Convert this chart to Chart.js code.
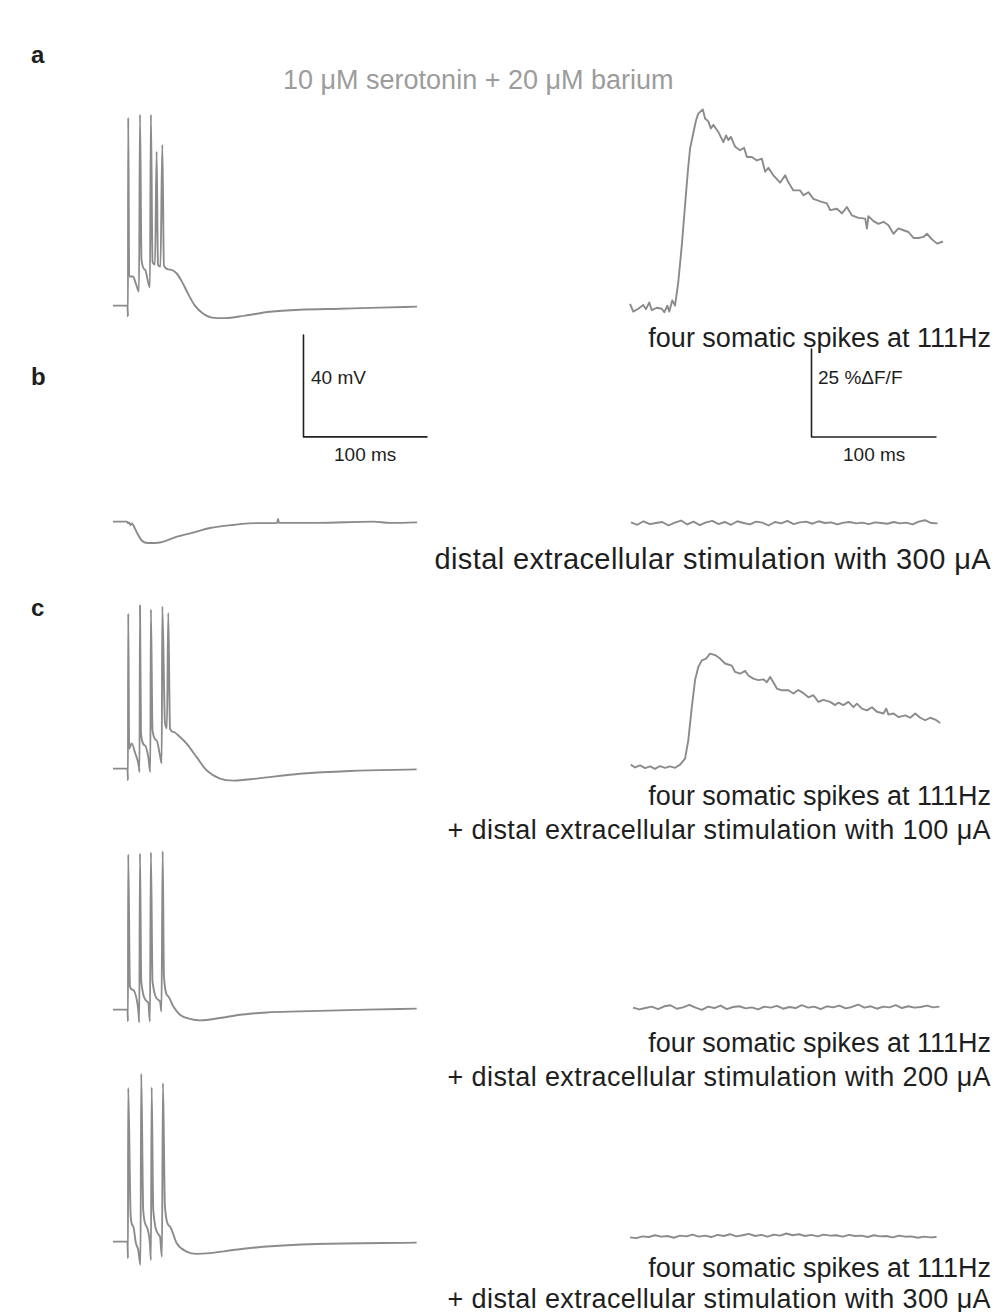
<!DOCTYPE html>
<html>
<head>
<meta charset="utf-8">
<script src="https://cdn.jsdelivr.net/npm/chart.js@4.4.1/dist/chart.umd.min.js"></script>
<style>
  html, body { margin: 0; padding: 0; background: #fff; }
  #page { position: relative; width: 1008px; height: 1312px; overflow: hidden; font-family: 'Liberation Sans', Arial, sans-serif; }
  #page canvas { position: absolute; }
  .txt { position: absolute; white-space: nowrap; color: #1e1e1e; line-height: 1; }
  .panel { font-weight: bold; font-size: 24px; }
  .lbl { font-size: 27px; right: 17px; text-align: right; }
  .lbl.wide { letter-spacing: 0.4px; }
  .lbl.big { font-size: 29px; letter-spacing: 0.4px; }
  .bar { font-size: 19px; }
  .title { font-size: 27px; color: #9c9c9c; }
</style>
</head>
<body>
<div id="page">
  <div class="txt panel" style="left:31px;top:43px">a</div>
  <div class="txt panel" style="left:31px;top:365px">b</div>
  <div class="txt panel" style="left:31px;top:596px">c</div>
  <div class="txt title" style="left:283px;top:67px">10 μM serotonin + 20 μM barium</div>

  <div class="txt bar" style="left:311px;top:368px">40 mV</div>
  <div class="txt bar" style="left:334px;top:445px">100 ms</div>
  <div class="txt bar" style="left:818px;top:368px">25 %ΔF/F</div>
  <div class="txt bar" style="left:843px;top:445px">100 ms</div>

  <div class="txt lbl" style="top:325px">four somatic spikes at 111Hz</div>
  <div class="txt lbl big" style="top:545px">distal extracellular stimulation with 300 μA</div>
  <div class="txt lbl" style="top:783px">four somatic spikes at 111Hz</div>
  <div class="txt lbl wide" style="top:817px">+ distal extracellular stimulation with 100 μA</div>
  <div class="txt lbl" style="top:1030px">four somatic spikes at 111Hz</div>
  <div class="txt lbl wide" style="top:1064px">+ distal extracellular stimulation with 200 μA</div>
  <div class="txt lbl" style="top:1255px">four somatic spikes at 111Hz</div>
  <div class="txt lbl wide" style="top:1286px">+ distal extracellular stimulation with 300 μA</div>
</div>
<script>
// somatic membrane potential: time (ms) / voltage (mV)
const A_VM_T = [0, 11.7, 12.1, 12.3, 13.1, 16.1, 18.5, 21.0, 21.8, 23.0, 25.8, 29.8, 30.6, 31.9, 33.9, 35.2, 36.3, 38.3, 39.8, 41.1, 46.0, 51.6, 55.6, 60.5, 66.1, 72.6, 79.8, 90.3, 106.5, 126.6, 150.8, 183.1, 215.3, 245.2];
const A_VM_MV = [-65, -65, -69.3, 8.7, -53.6, -53.6, -56.4, -59.5, 9.9, -47.0, -50.9, -57.9, 9.9, -47.7, -48.9, -4.6, -48.9, -49.7, -1.9, -49.3, -50.9, -52.5, -55.6, -60.3, -65.0, -68.1, -69.7, -69.9, -68.9, -67.4, -66.6, -66.2, -65.8, -65.4];

const B_VM_T = [0, 11.3, 12.1, 13.0, 14.1, 15.3, 16.9, 19.4, 23.4, 28.2, 37.9, 51.6, 64.5, 78.2, 96.8, 116.1, 132.3, 133.1, 133.9, 164.5, 209.7, 223.4, 245.2];
const B_VM_MV = [-65, -65, -65.6, -65.3, -66.3, -65.7, -66.9, -69.4, -72.5, -73.4, -73.2, -70.9, -69.3, -67.5, -66.3, -65.6, -65.6, -63.9, -65.5, -65.5, -65.0, -65.5, -65.3];

const C1_VM_T = [0, 11.7, 12.1, 12.3, 13.1, 15.1, 17.7, 21.0, 21.4, 21.8, 22.6, 25.8, 28.5, 30.1, 30.6, 31.9, 35.2, 37.9, 39.3, 39.8, 41.9, 43.5, 44.6, 46.0, 48.6, 54.0, 59.4, 67.5, 75.6, 86.3, 97.0, 115.9, 150.8, 191.1, 244.9];
const C1_VM_MV = [-65, -65, -69.6, -4.2, -57.2, -55.1, -58.6, -64.4, -66.3, -1.0, -51.3, -55.9, -60.5, -66.3, -2.6, -50.0, -53.9, -59.8, -62.9, -1.4, -46.7, -49.2, -4.0, -49.3, -50.6, -52.6, -55.2, -60.5, -65.7, -68.9, -69.7, -68.9, -67.0, -65.9, -65.3];

const C2_VM_T = [0, 11.7, 12.1, 12.3, 13.7, 15.9, 20.4, 21.2, 21.8, 22.8, 28.5, 29.8, 30.6, 31.9, 37.9, 39.1, 40.1, 41.1, 44.6, 48.6, 54.0, 62.1, 70.2, 86.3, 102.4, 124.0, 150.8, 204.6, 244.9];
const C2_VM_MV = [-65, -65, -69.6, -4.2, -55.9, -57.2, -65.0, -70.0, -3.8, -53.9, -62.3, -69.7, -3.3, -53.9, -61.7, -65.7, -2.9, -51.9, -59.8, -63.7, -67.0, -68.6, -69.2, -68.3, -67.0, -66.1, -65.7, -65.0, -64.6];

const C3_VM_T = [0, 11.7, 12.1, 12.3, 14.3, 16.4, 18.5, 20.4, 22.2, 22.8, 24.4, 27.2, 29.8, 30.6, 31.2, 32.5, 37.9, 39.5, 40.3, 41.9, 46.0, 51.4, 59.4, 67.5, 78.2, 97.0, 121.2, 164.3, 244.9];
const C3_VM_MV = [-65, -65, -71.5, -4.8, -55.2, -59.1, -65.6, -68.3, -74.1, 0.8, -52.6, -59.1, -65.6, -72.2, -4.5, -52.6, -63.0, -70.9, -2.9, -51.3, -59.1, -65.6, -68.9, -69.8, -69.5, -68.3, -67.0, -65.9, -65.4];

// dendritic calcium signal: time (ms) / %ΔF/F
const A_DF_T = [0, 2.6, 6.6, 10.6, 12.8, 15.4, 17.4, 21.4, 25.4, 27.4, 29.8, 31.4, 33.8, 36.0, 38.6, 41.4, 44.0, 46.2, 48.0, 50.2, 52.8, 54.6, 58.2, 60.0, 62.6, 64.6, 66.6, 70.6, 74.6, 76.8, 78.6, 80.6, 84.0, 88.0, 91.2, 93.4, 97.4, 101.4, 105.4, 108.0, 110.6, 114.6, 120.0, 124.0, 126.6, 130.6, 136.0, 138.6, 142.6, 146.6, 152.0, 157.4, 160.0, 165.4, 169.4, 173.4, 177.4, 182.6, 188.0, 189.4, 190.6, 194.6, 198.6, 202.6, 206.6, 210.6, 214.6, 218.6, 222.6, 226.6, 230.6, 234.6, 237.4, 241.4, 245.4, 250.2];
const A_DF_PCT = [1.0, -1.2, -0.4, 0.7, -0.5, 1.4, -0.8, -0.1, -0.4, -1.4, 0.5, -1.2, 2.0, 0.5, 7.2, 17.6, 29.0, 38.5, 45.1, 48.8, 53.1, 55.0, 56.2, 53.6, 52.8, 50.8, 51.8, 49.8, 46.9, 48.8, 47.5, 48.4, 45.6, 44.6, 45.3, 42.7, 42.7, 41.7, 42.2, 38.5, 39.6, 37.5, 35.4, 37.5, 35.5, 33.2, 33.2, 31.8, 32.7, 30.8, 30.1, 29.5, 27.6, 28.0, 26.7, 28.5, 26.1, 25.4, 25.2, 22.4, 25.9, 24.5, 23.7, 24.3, 23.3, 20.9, 22.4, 21.9, 21.4, 19.7, 19.7, 20.0, 20.9, 19.3, 18.1, 18.7];

const C1_DF_T = [0.6, 4, 8, 12, 16, 20, 24, 28, 32, 36, 40, 44, 46.6, 49.4, 52, 54.6, 57.4, 60.8, 64, 68, 72, 76, 81.4, 84, 88, 92, 94.6, 98.6, 102.6, 106.6, 109.4, 112, 114.6, 117.4, 121.4, 126.6, 130.6, 134.6, 138.6, 142.6, 146.6, 150.6, 154.6, 160, 164, 166.6, 170.6, 174.6, 178.6, 181.4, 185.4, 189.4, 193.4, 197.4, 202.6, 204.8, 206.6, 210.6, 214.6, 220, 224, 228, 232, 236, 240, 244, 248];
const C1_DF_PCT = [0.5, -0.3, 0.3, -0.5, 0, -0.7, 0.1, -0.4, 0, -0.4, 0.5, 2.2, 7.4, 16.8, 24.5, 28.2, 30.1, 30.6, 32.0, 31.6, 30.6, 29.2, 28.6, 26.8, 26.3, 27.1, 25.8, 24.9, 24.5, 24.7, 23.9, 25.4, 23.9, 22.1, 21.6, 21.6, 20.7, 21.7, 20.8, 19.6, 20.2, 18.3, 18.9, 18.3, 17.4, 18.1, 17.4, 18.3, 16.8, 17.8, 16.4, 15.9, 16.8, 15.5, 15.0, 16.4, 14.7, 15.0, 14.0, 14.5, 13.8, 15.0, 13.8, 13.1, 13.8, 13.3, 12.3];

// traces with no calcium response (b, c2, c3)
const FLAT_DF_T = [0, 5, 10, 15, 20, 25, 30, 35, 40, 45, 50, 55, 60, 65, 70, 75, 80, 85, 90, 95, 100, 105, 110, 115, 120, 125, 130, 135, 140, 145, 150, 155, 160, 165, 170, 175, 180, 185, 190, 195, 200, 205, 210, 215, 220, 225, 230, 235, 240, 245];
const B_DF_PCT = [0.3, -0.4, 0.6, -0.2, 0.1, 0.4, -0.6, 0.2, 0.8, -0.3, 0.5, -0.5, 0.3, 0.7, -0.2, 0.4, -0.4, 0.6, 0.1, -0.3, 0.5, 0.2, -0.6, 0.4, 0.0, 0.7, -0.2, 0.3, 0.5, -0.1, 0.6, 0.1, 0.3, -0.3, 0.2, 0.4, 0.0, 0.2, -0.2, 0.3, 0.1, -0.1, 0.4, 0.0, 0.2, -0.3, 0.5, 0.9, 0.1, 0.0];
const C2_DF_PCT = [0.2, -0.3, 0.1, 0.5, -0.2, 0.6, 0.9, -0.1, 0.3, 1.0, 0.2, -0.4, 0.5, 0.1, 0.8, -0.2, 0.4, 0.6, 0.0, 0.3, -0.3, 0.5, 0.2, 0.7, -0.1, 0.4, 0.1, 0.9, 0.2, 0.5, -0.2, 0.6, 0.3, 0.8, 0.0, 0.4, 1.1, 0.2, 0.6, -0.1, 0.5, 0.3, 0.9, 0.1, 0.6, 0.2, 0.4, 0.8, 0.3, 0.5];
const C3_DF_PCT = [0.0, -0.2, 0.3, 0.1, 0.6, 0.2, 0.4, -0.1, 0.5, 0.3, 0.8, 0.2, 0.5, 0.1, 0.7, 0.4, 0.9, 0.3, 0.6, 1.0, 0.4, 0.7, 0.2, 0.8, 0.5, 1.1, 0.6, 0.9, 0.4, 0.7, 0.3, 0.8, 0.5, 0.6, 0.2, 0.7, 0.4, 0.5, 0.1, 0.6, 0.3, 0.4, 0.0, 0.5, 0.2, 0.3, -0.1, 0.2, 0.0, 0.1];

// scale bars
const VM_BAR_T = [0, 0, 100];
const VM_BAR_MV = [40, 0, 0];
const DF_BAR_T = [0, 0, 100];
const DF_BAR_PCT = [25, 0, 0];

// page layout (px per unit, anchors)
const VM_PX_MS = 1.24, VM_PX_MV = 2.55;
const DF_PX_MS = 1.25, DF_PX_PCT = 3.52;
const TRACE_GREY = '#8b8b8b';

const page = document.getElementById('page');

function plot(xs, ys, f) {
    const c = document.createElement('canvas');
    const w = Math.round((f.xMax - f.xMin) * f.pxX);
    const h = Math.round((f.yMax - f.yMin) * f.pxY);
    c.width = w; c.height = h;
    c.style.left = (f.left + f.xMin * f.pxX) + 'px';
    c.style.top = (f.baseY - (f.yMax - f.base) * f.pxY) + 'px';
    c.style.width = w + 'px'; c.style.height = h + 'px';
    page.appendChild(c);
    new Chart(c.getContext('2d'), {
        type: 'line',
        data: {
            datasets: [{
                data: xs.map((x, i) => ({ x: x, y: ys[i] })),
                borderColor: f.color || TRACE_GREY,
                borderWidth: f.lw || 1.9,
                pointRadius: 0,
                tension: 0,
                cubicInterpolationMode: f.smooth ? 'monotone' : 'default',
                borderJoinStyle: 'round',
                fill: false
            }]
        },
        options: {
            responsive: false,
            animation: false,
            events: [],
            layout: { padding: 0 },
            plugins: { legend: { display: false }, tooltip: { enabled: false } },
            scales: {
                x: { type: 'linear', display: false, min: f.xMin, max: f.xMax },
                y: { type: 'linear', display: false, min: f.yMin, max: f.yMax }
            }
        }
    });
}

function vm(xs, ys, baseY) {
    plot(xs, ys, { left: 113, baseY: baseY, base: -65, pxX: VM_PX_MS, pxY: VM_PX_MV,
        xMin: -4, xMax: 250, yMin: -82, yMax: 16, smooth: true });
}
function df(xs, ys, left, baseY) {
    plot(xs, ys, { left: left, baseY: baseY, base: 0, pxX: DF_PX_MS, pxY: DF_PX_PCT,
        xMin: -4, xMax: 255, yMin: -5, yMax: 60 });
}

vm(A_VM_T, A_VM_MV, 306);
vm(B_VM_T, B_VM_MV, 521.7);
vm(C1_VM_T, C1_VM_MV, 768.3);
vm(C2_VM_T, C2_VM_MV, 1010);
vm(C3_VM_T, C3_VM_MV, 1241.7);

df(A_DF_T, A_DF_PCT, 630, 307);
df(FLAT_DF_T, B_DF_PCT, 631, 523);
df(C1_DF_T, C1_DF_PCT, 630, 766);
df(FLAT_DF_T, C2_DF_PCT, 633, 1008);
df(FLAT_DF_T, C3_DF_PCT, 630, 1237);

plot(VM_BAR_T, VM_BAR_MV, { left: 303, baseY: 437, base: 0, pxX: VM_PX_MS, pxY: VM_PX_MV,
    xMin: -2, xMax: 102, yMin: -2, yMax: 42, color: '#222', lw: 1.6 });
plot(DF_BAR_T, DF_BAR_PCT, { left: 811, baseY: 437, base: 0, pxX: DF_PX_MS, pxY: DF_PX_PCT,
    xMin: -2, xMax: 102, yMin: -2, yMax: 27, color: '#222', lw: 1.6 });
</script>
</body>
</html>
